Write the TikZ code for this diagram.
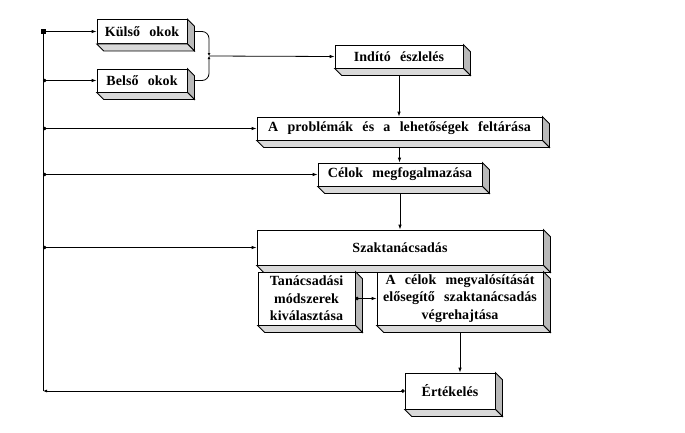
\documentclass[tikz,border=0pt]{standalone}
\usepackage{fontspec}
\setmainfont{Liberation Serif}[LetterSpace=0.5,WordSpace=2.6]
\usepackage{tikz}
\usetikzlibrary{arrows.meta,calc,backgrounds}

\tikzset{
	block/.style={draw,fill=white,thick,inner sep=0pt,align=center,
		font=\fontsize{14}{17.5}\selectfont\bfseries},
	link/.style={thick,-{Latex[length=5pt,width=3.5pt]}},
	dotlink/.style={thick,{Circle[length=3.5pt]}-{Latex[length=5pt,width=3.5pt]}}
}

% shaded side and bottom of a block
\newcommand{\extrude}[1]{%
	\filldraw[fill=gray!55,thick] (#1.north east) -- ++(7,7) -- ($(#1.south east)+(7,7)$) -- (#1.south east) -- cycle;
	\filldraw[fill=gray!30,thick] (#1.south west) -- ++(7,7) -- ($(#1.south east)+(7,7)$) -- (#1.south east) -- cycle;}

\begin{document}
\begin{tikzpicture}[x=1pt,y=-1pt]
\useasboundingbox (0,0) rectangle (685,432);

\begin{scope}[every node/.style={block}]
	%Causes
	\node[minimum width=90,minimum height=24] (kulso) at (142, 31.5) {Külső okok};
	\node[minimum width=90,minimum height=23] (belso) at (142, 80.5) {Belső okok};
	
	%Main column
	\node[minimum width=128,minimum height=23] (indito) at (399, 56.5) {Indító észlelés};
	\node[minimum width=285,minimum height=23] (problemak) at (399.5, 128.5) {A problémák és a lehetőségek feltárása};
	\node[minimum width=164,minimum height=23] (celok) at (400, 174.5) {Célok megfogalmazása};
	\node[minimum width=286,minimum height=35] (szak) at (400, 247.5) {Szaktanácsadás};
	
	%Consulting parts
	\node[minimum width=97,minimum height=53] (tanacs) at (306.5, 298.5) {Tanácsadási\\módszerek\\kiválasztása};
	\node[minimum width=166,minimum height=53] (megval) at (460, 298.5) {A célok megvalósítását\\elősegítő szaktanácsadás\\végrehajtása};
	
	%Evaluation
	\node[minimum width=90,minimum height=36] (ertek) at (450, 391) {Értékelés};
\end{scope}

\foreach \b in {kulso,belso,indito,problemak,celok,szak,tanacs,megval,ertek}
	\extrude{\b};

\coordinate (jn) at (209, 56);
\coordinate (tl) at (43, 31.5);
\coordinate (bl) at (43, 391);

\begin{pgfonlayer}{background}
	%Causes to first step
	\draw[thick,rounded corners=7pt,-{Latex[length=3pt,width=3pt]}] (kulso.east) -| (jn);
	\draw[thick,rounded corners=7pt,-{Latex[length=3pt,width=3pt]}] (belso.east) -| (jn);
	\draw[link] (jn) -- (indito.west);
	
	%Main column
	\draw[dotlink] (indito.south) -- (indito.south |- problemak.north);
	\draw[dotlink] (problemak.south) -- (problemak.south |- celok.north);
	\draw[dotlink] (celok.south) -- (celok.south |- szak.north);
	\draw[dotlink] (megval.south) -- (megval.south |- ertek.north);
	
	%Feedback
	\draw[thick,{Circle[length=3.5pt]}-{Latex[length=4pt,width=3pt]}] (ertek.west) -- (bl);
	\draw[thick] (bl) -- (tl);
	\fill ($(tl)+(-2.5,-2.5)$) rectangle ($(tl)+(2.5,2.5)$);
	\draw[link] (tl) -- (kulso.west);
	\draw[dotlink] (tl |- belso.west) -- (belso.west);
	\draw[dotlink] (tl |- problemak.west) -- (problemak.west);
	\draw[dotlink] (tl |- celok.west) -- (celok.west);
	\draw[dotlink] (tl |- szak.west) -- (szak.west);
\end{pgfonlayer}

\draw[dotlink] (tanacs.east) -- (megval.west);
\end{tikzpicture}
\end{document}
